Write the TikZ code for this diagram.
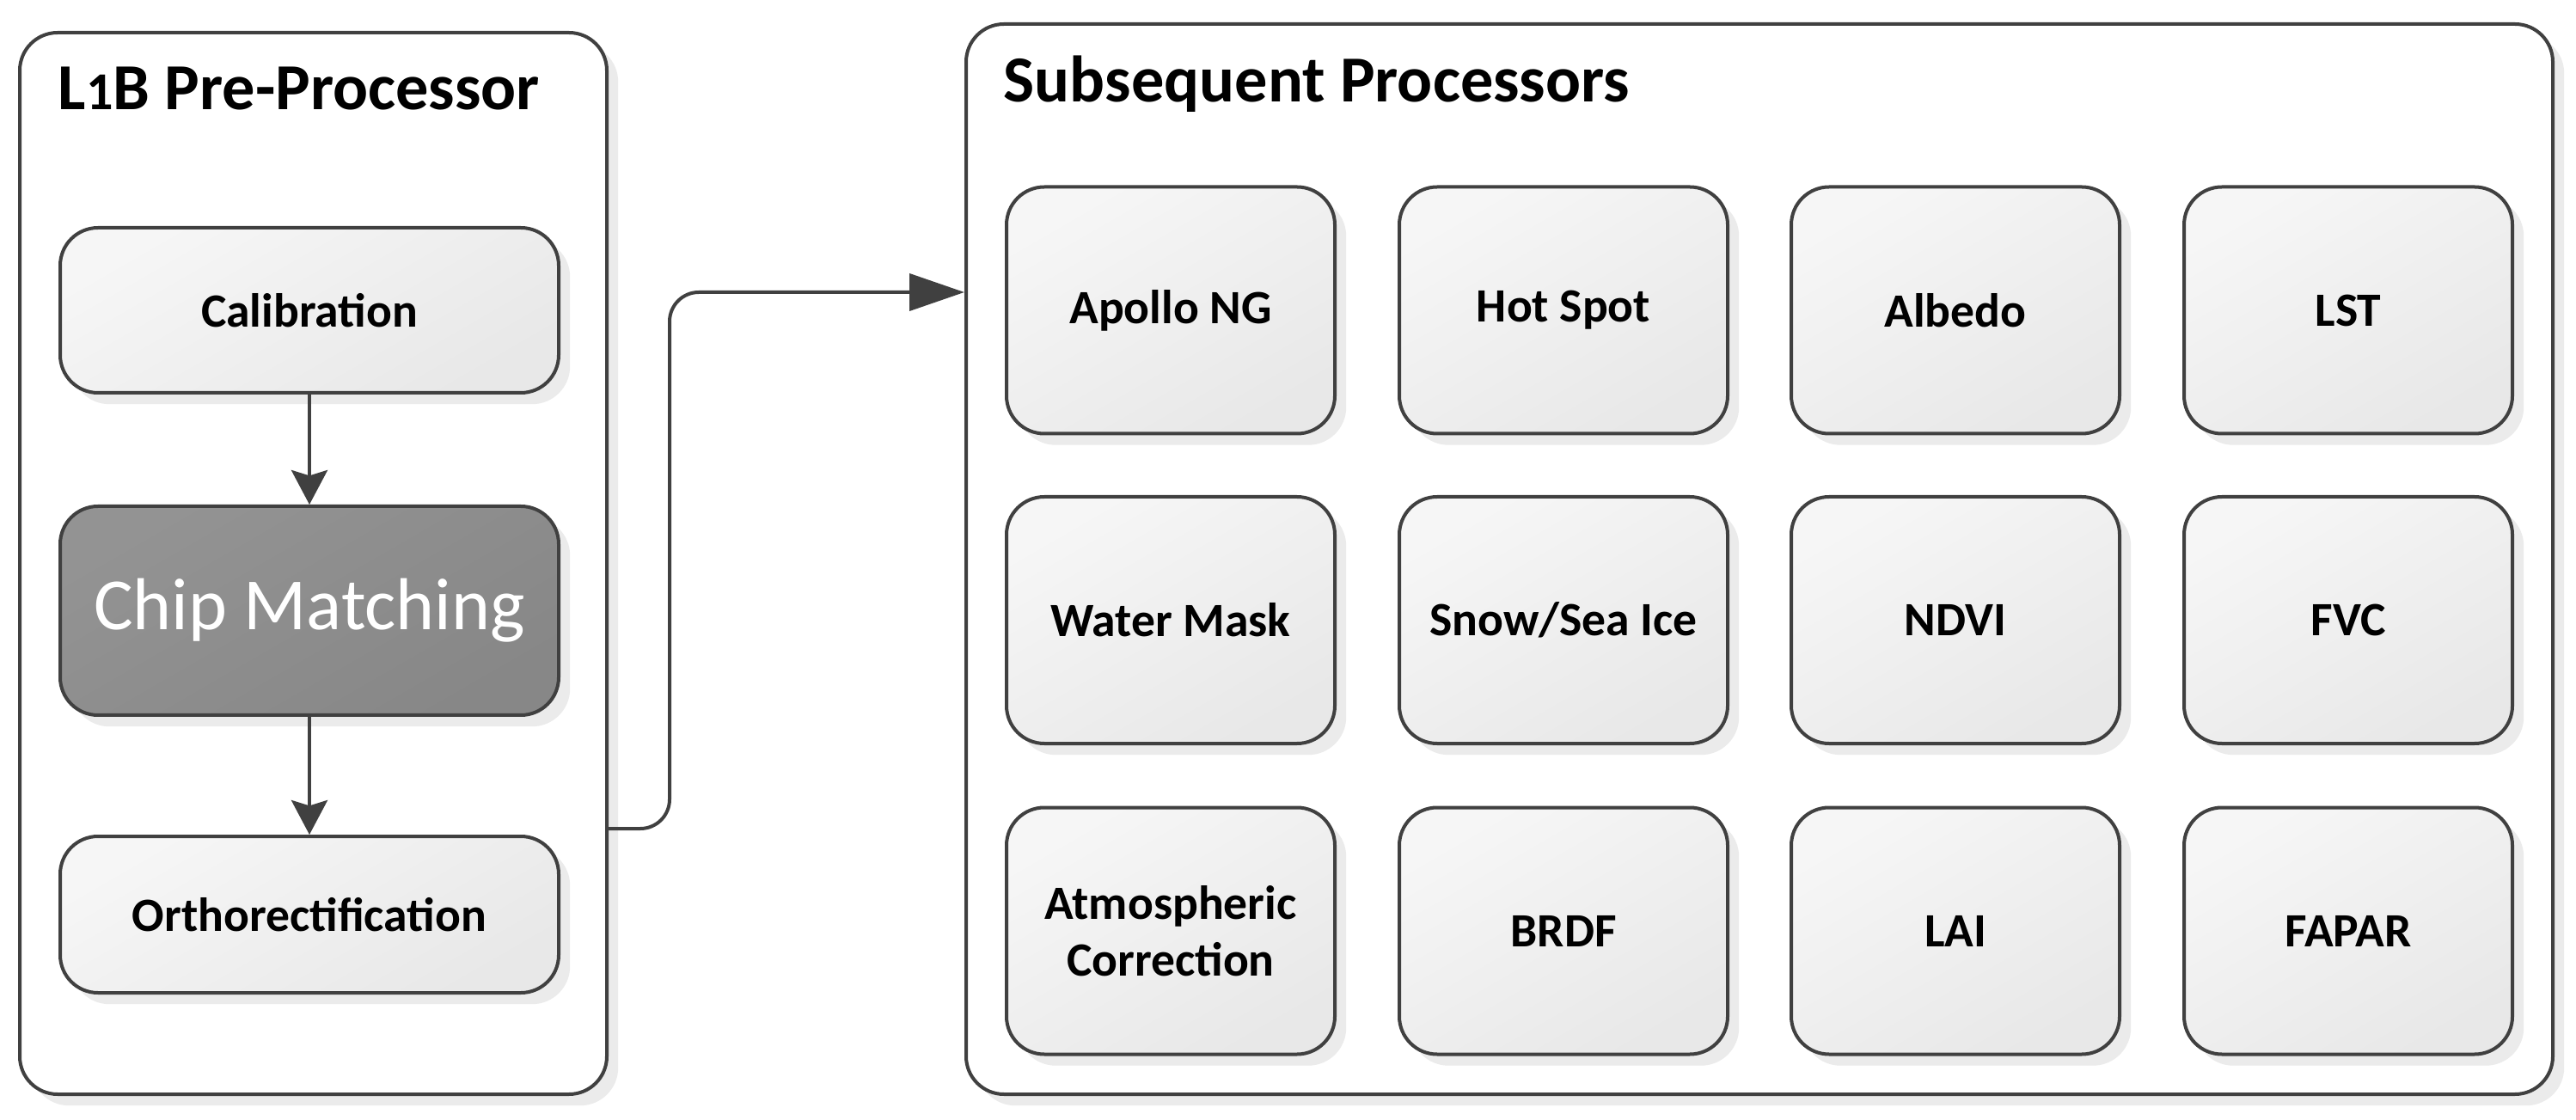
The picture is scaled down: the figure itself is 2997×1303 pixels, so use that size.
\documentclass[tikz,border=0pt]{standalone}
\usepackage{fontspec}
\setmainfont{Carlito}
\usetikzlibrary{arrows.meta,shadows}
\definecolor{edgec}{HTML}{404040}
\definecolor{boxA}{HTML}{F6F6F6}
\definecolor{boxB}{HTML}{E8E8E8}
\definecolor{chipA}{HTML}{939393}
\definecolor{chipB}{HTML}{878787}
\definecolor{shadowc}{HTML}{EBEBEB}
\tikzset{
  shad/.style={drop shadow={shadow xshift=3.3pt, shadow yshift=-3.3pt, opacity=1, fill=shadowc}},
  outerbox/.style={draw=edgec, line width=1pt, fill=white, rounded corners=11pt, shad, inner sep=0pt},
  procbox/.style={draw=edgec, line width=1pt, rounded corners=11pt, shad, inner sep=0pt,
     top color=boxA, bottom color=boxB, shading angle=30,
     font=\bfseries\fontsize{13.9pt}{16.5pt}\selectfont, align=center, text=black},
  stepbox/.style={procbox, minimum width=145pt},
  gridbox/.style={procbox, minimum width=95.5pt, minimum height=71.75pt},
  chipbox/.style={procbox, top color=chipA, bottom color=chipB, shading angle=30,
     font=\fontsize{21.4pt}{24pt}\selectfont, text=white},
  titletext/.style={anchor=base west, inner sep=0pt, font=\bfseries\fontsize{19.1pt}{22pt}\selectfont},
  varr/.style={draw=edgec, line width=1pt, -{Stealth[length=10pt, width=10.5pt, inset=1.6pt]}},
  marr/.style={draw=edgec, line width=1pt, rounded corners=8.5pt, -{Triangle[length=16pt, width=10.75pt]}}
}
\begin{document}
\begin{tikzpicture}[x=0.25pt,y=-0.25pt]
\useasboundingbox (0,0) rectangle (2997,1303);
% outer containers
\node[outerbox, minimum width=170.75pt, minimum height=308.75pt] (lbox) at (364.5,655.5) {};
\node[outerbox, minimum width=461.5pt, minimum height=311.25pt] (rbox) at (2047,650.5) {};
\node[titletext] (ltitle) at (67,128) {L{\fontsize{15.5pt}{18pt}\selectfont 1}B Pre-Processor};
\node[titletext] (rtitle) at (1167,119) {Subsequent Processors};
% L1B steps
\node[stepbox, minimum height=48pt] (cal) at (360,361) {Calibration};
\node[chipbox, minimum width=145pt, minimum height=60.75pt] (chip) at (360,710.5) {Chip Matching};
\node[stepbox, minimum height=45.5pt] (ortho) at (360,1064) {Orthorectification};
\draw[varr] (cal) -- (chip);
\draw[varr] (chip) -- (ortho);
% grid of processors
\node[gridbox] (apollo) at (1362,361) {Apollo NG};
\node[gridbox] (hot)    at (1819,361) {Hot Spot};
\node[gridbox] (albedo) at (2275,361) {Albedo};
\node[gridbox] (lst)    at (2732,361) {LST};
\node[gridbox] (water)  at (1362,721.5) {Water Mask};
\node[gridbox] (snow)   at (1819,721.5) {Snow/Sea Ice};
\node[gridbox] (ndvi)   at (2275,721.5) {NDVI};
\node[gridbox] (fvc)    at (2732,721.5) {FVC};
\node[gridbox] (atmo)   at (1362,1083) {Atmospheric\\Correction};
\node[gridbox] (brdf)   at (1819,1083) {BRDF};
\node[gridbox] (lai)    at (2275,1083) {LAI};
\node[gridbox] (fapar)  at (2732,1083) {FAPAR};
% connector
\coordinate (cs) at (706,964);
\coordinate (bend) at (779,650);
\coordinate (ce) at (1124,340);
\draw[marr] (lbox.east |- cs) -| (bend) |- (rbox.west |- ce);
\end{tikzpicture}
\end{document}
